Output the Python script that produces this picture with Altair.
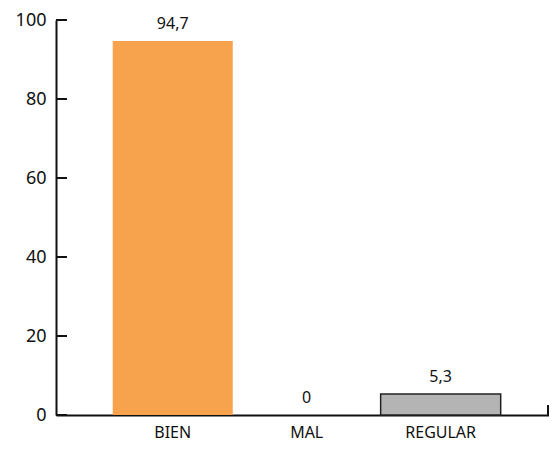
import altair as alt
import pandas as pd

categories = ["BIEN", "MAL", "REGULAR"]
values = [94.7, 0, 5.3]
labels = ["94,7", "0", "5,3"]
colors = ["#F7A24C", "#F7A24C", "#B4B4B4"]
strokes = ["transparent", "transparent", "#222222"]
y_ticks = [0, 20, 40, 60, 80, 100]

df = pd.DataFrame({"cat": categories, "val": values, "lab": labels,
                   "col": colors, "stk": strokes})
ticks_df = pd.DataFrame({"t": y_ticks})

FONT = "Noto Sans"
W, H = 493, 395

x = alt.X("cat:N", sort=categories,
          scale=alt.Scale(paddingInner=0.104, paddingOuter=0.392, align=0.54),
          axis=alt.Axis(title=None, labelAngle=0, ticks=False, domain=True, grid=False,
                        domainColor="#111", domainWidth=2, labelFontSize=16,
                        labelColor="#111", labelPadding=9, labelFont=FONT))
y = alt.Y("val:Q", scale=alt.Scale(domain=[0, 100], nice=False),
          axis=alt.Axis(title=None, values=y_ticks, ticks=False, grid=False,
                        domainColor="#111", domainWidth=2, labelFontSize=18,
                        labelColor="#111", labelPadding=10, labelFont=FONT))

bars = alt.Chart(df).mark_bar(strokeWidth=1.5).encode(
    x=x, y=y,
    color=alt.Color("col:N", scale=None),
    stroke=alt.Stroke("stk:N", scale=None),
)

text = alt.Chart(df).mark_text(dy=-17, fontSize=16, font=FONT, color="#111").encode(
    x=alt.X("cat:N", sort=categories), y="val:Q", text="lab:N"
)

tick_marks = alt.Chart(ticks_df).mark_rule(color="#111", strokeWidth=2).encode(
    x=alt.value(0), x2=alt.value(11), y=alt.Y("t:Q")
)

end_tick = alt.Chart(pd.DataFrame({"t": [0]})).mark_rule(color="#111", strokeWidth=2).encode(
    x=alt.value(W - 1), y=alt.value(H - 10), y2=alt.value(H)
)

chart = alt.layer(bars, text, tick_marks, end_tick).properties(
    width=W, height=H,
    background="white",
    autosize=alt.AutoSizeParams(type="none"),
    padding={"left": 48, "top": 12, "right": 0, "bottom": 26},
).configure_view(strokeWidth=0, stroke=None).configure_axis(grid=False)

chart.save("out.html", embed_options={"renderer": "svg", "actions": False})
